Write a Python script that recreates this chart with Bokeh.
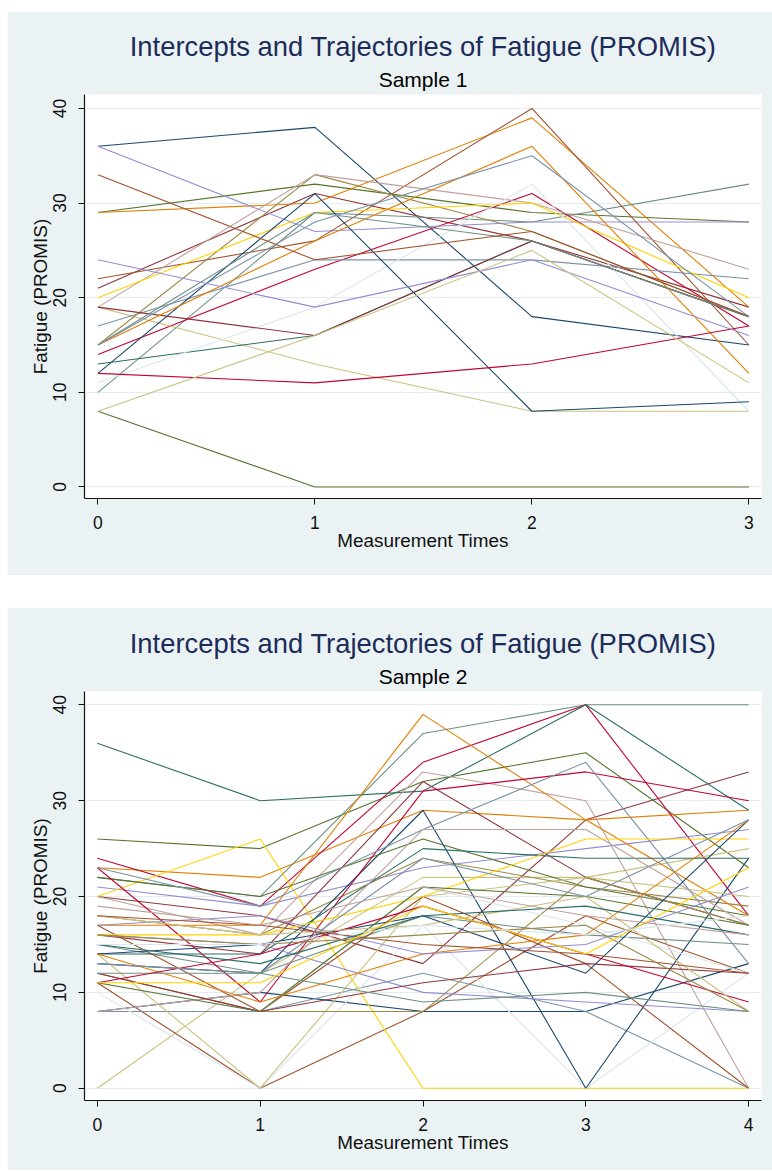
from bokeh.plotting import figure
from bokeh.models import Range1d, FixedTicker, Title, Spacer
from bokeh.layouts import column, row
from bokeh.embed import file_html
from bokeh.resources import INLINE

# Stata s2color line palette (p1..p15), cycled by subject id
PALETTE = ["#1a476f", "#90353b", "#55752f", "#e37e00", "#6e8e84",
           "#c10534", "#938dd2", "#cac27e", "#a0522d", "#7b92a8",
           "#2d6d66", "#9c8847", "#bfa19c", "#ffd200", "#d9e6eb"]

TITLE = "Intercepts and Trajectories of Fatigue (PROMIS)"
Y_LABEL = "Fatigue (PROMIS)"
X_LABEL = "Measurement Times"
Y_TICKS = [0, 10, 20, 30, 40]

# ---- Sample 1: four measurement times, 25 subjects ----
S1_TIMES = [0, 1, 2, 3]
S1_T0 = [36, 21, 29, 29, 10, 14, 36, 19, 22, 17, 13, 15, 19, 20, 11,
         12, 19, 8, 15, 15, 12, 24, 8, 33, 15]
S1_T1 = [38, 31, 32, 30, 29, 23, 27, 13, 26, 24, 16, 33, 33, 29, 19,
         31, 16, 0, 26, 29, 11, 19, 16, 24, 28]
S1_T2 = [18, 26, 29, 39, 28, 31, 28, 8, 40, 24, 26, 27, 30, 30, 32,
         8, 26, 0, 36, 26, 13, 24, 25, 27, 35]
S1_T3 = [15, 19, 28, 19, 32, 17, 28, 8, 15, 22, 18, 18, 23, 20, 8,
         9, 18, 0, 12, 18, 17, 16, 11, 18, 18]

# ---- Sample 2: five measurement times, 45 subjects ----
S2_TIMES = [0, 1, 2, 3, 4]
S2_T0 = [8, 20, 26, 23, 22, 24, 21, 0, 11, 8, 36, 18, 20, 20, 10,
         13, 16, 22, 17, 15, 23, 16, 14, 17, 23, 14, 12, 8, 16, 11,
         14, 12, 11, 14, 12, 11, 17, 18, 18, 13, 15, 16, 19, 11, 15]
S2_T1 = [10, 18, 25, 22, 20, 19, 19, 12, 0, 8, 30, 16, 16, 26, 0,
         12, 14, 20, 17, 12, 9, 15, 0, 8, 19, 14, 8, 10, 16, 8,
         15, 8, 8, 9, 12, 14, 18, 16, 17, 12, 13, 15, 17, 11, 15]
S2_T2 = [8, 13, 32, 29, 37, 34, 23, 22, 8, 12, 31, 24, 33, 0, 17,
         29, 32, 26, 39, 18, 31, 10, 20, 20, 27, 25, 8, 27, 20, 21,
         18, 11, 21, 14, 9, 19, 14, 17, 15, 24, 18, 16, 21, 19, 17]
S2_T3 = [8, 28, 35, 28, 40, 40, 25, 22, 18, 8, 40, 21, 30, 0, 0,
         0, 22, 21, 28, 16, 33, 9, 22, 13, 34, 24, 22, 27, 26, 17,
         12, 13, 20, 16, 10, 14, 15, 20, 14, 20, 19, 17, 18, 14, 16]
S2_T4 = [13, 33, 23, 29, 40, 18, 27, 25, 12, 0, 29, 19, 0, 0, 12,
         24, 17, 18, 18, 15, 30, 8, 20, 0, 13, 24, 17, 17, 26, 12,
         28, 12, 17, 28, 8, 9, 21, 8, 12, 28, 16, 8, 16, 23, 18]

BG = "#eaf2f3"
GRID = "#e3edef"
TITLE_COLOR = "#1c2c5a"
FONT = "Liberation Sans"


def make_panel(subtitle, times, columns, width, height, x_rng, y_rng,
               b_left, b_right, b_top, b_bottom):
    p = figure(width=width, height=height,
               x_range=Range1d(*x_rng), y_range=Range1d(*y_rng),
               output_backend="svg", toolbar_location=None,
               min_border_left=b_left, min_border_right=b_right,
               min_border_top=b_top, min_border_bottom=b_bottom,
               background_fill_color="white", border_fill_color=BG,
               outline_line_color=None)
    # subtitle first (closest to the frame), then the main title above it
    p.add_layout(Title(text=subtitle, align="center", text_font=FONT,
                       text_font_size="21px", text_font_style="normal",
                       text_color="black", standoff=7), "above")
    p.add_layout(Title(text=TITLE, align="center", text_font=FONT,
                       text_font_size="27.4px", text_font_style="normal",
                       text_color=TITLE_COLOR, standoff=1), "above")

    n = len(columns[0])
    for i in range(n):
        ys = [col[i] for col in columns]
        p.line(times, ys, line_color=PALETTE[i % len(PALETTE)], line_width=1.1)

    p.xaxis.ticker = FixedTicker(ticks=times)
    p.yaxis.ticker = FixedTicker(ticks=Y_TICKS)
    p.xgrid.grid_line_color = None
    p.ygrid.grid_line_color = GRID
    p.ygrid.grid_line_width = 1.2
    for ax in (p.xaxis[0], p.yaxis[0]):
        ax.axis_line_color = "#111111"
        ax.axis_line_width = 1.2
        ax.major_tick_line_color = "#111111"
        ax.major_tick_out = 6
        ax.major_tick_in = 0
        ax.minor_tick_line_color = None
        ax.major_label_text_font = FONT
        ax.major_label_text_font_size = "17.5px"
        ax.major_label_text_color = "#111111"
        ax.axis_label_text_font = FONT
        ax.axis_label_text_font_size = "18.9px"
        ax.axis_label_text_font_style = "normal"
        ax.axis_label_text_color = "#111111"
    p.xaxis.axis_label = X_LABEL
    p.yaxis.axis_label = Y_LABEL
    p.yaxis.major_label_orientation = "vertical"
    p.xaxis.major_label_standoff = 11
    p.yaxis.major_label_standoff = 12
    p.xaxis.axis_label_standoff = -2
    p.yaxis.axis_label_standoff = 0
    return p


p1 = make_panel("Sample 1", S1_TIMES, [S1_T0, S1_T1, S1_T2, S1_T3],
                765, 564, (-0.062, 3.058), (-1.22, 41.47), 76, 11, 83, 77)
p2 = make_panel("Sample 2", S2_TIMES, [S2_T0, S2_T1, S2_T2, S2_T3, S2_T4],
                765, 563, (-0.079, 4.079), (-1.28, 41.39), 77, 3, 84, 70)

layout = row(Spacer(width=7),
             column(Spacer(height=11), p1, Spacer(height=32), p2))
open("out.html", "w").write(file_html(layout, INLINE))
